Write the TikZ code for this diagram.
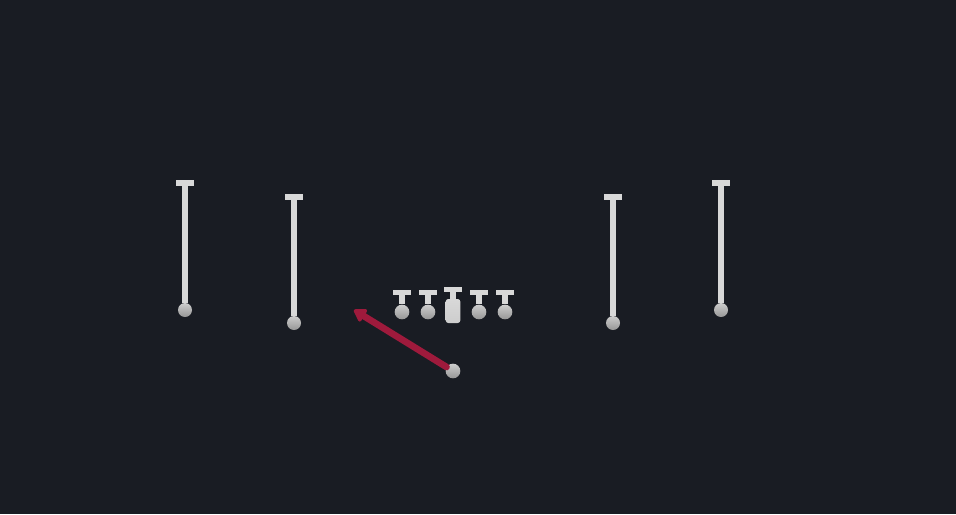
\documentclass[tikz,border=0pt]{standalone}
\usepackage{xcolor}
\usepackage{tikz}
\usetikzlibrary{arrows.meta}

\definecolor{fieldbg}{RGB}{25,28,35}
\definecolor{routegray}{RGB}{216,216,216}
\definecolor{dotlight}{RGB}{205,205,205}
\definecolor{dotdark}{RGB}{150,150,150}
\definecolor{runred}{RGB}{158,26,60}

\tikzset{
  player/.style={circle,inner sep=0pt,minimum size=10.5pt,top color=dotlight,bottom color=dotdark},
  lineman/.style={player,minimum size=11pt},
  snapper/.style={rectangle,rounded corners=2pt,inner sep=0pt,minimum width=11pt,minimum height=18pt,top color=routegray,bottom color=dotlight},
  blockbar/.style={rectangle,inner sep=0pt,minimum width=14pt,minimum height=4.25pt,fill=routegray},
  route/.style={draw=routegray,line width=4.25pt},
  run/.style={draw=runred,line width=5pt,line cap=round,-{Triangle[round,length=10pt,width=12pt]}}
}

\begin{document}
\begin{tikzpicture}[x=0.75pt,y=0.75pt,yscale=-1,xscale=1]
%background
\fill[fieldbg] (0,0) rectangle (956,514);
\useasboundingbox (0,0) rectangle (956,514);

% Receivers
\node [player] (wrleft) at (185,310) {};
\node [blockbar] (wrleftbar) at (185,183) {};
\node [player] (slotleft) at (294,323) {};
\node [blockbar] (slotleftbar) at (294,197) {};
\node [player] (slotright) at (613,323) {};
\node [blockbar] (slotrightbar) at (613,197) {};
\node [player] (wrright) at (721,310) {};
\node [blockbar] (wrrightbar) at (721,183) {};

%Straight Lines
\draw [route] (wrleft) -- (wrleftbar.center) ;
\draw [route] (slotleft) -- (slotleftbar.center) ;
\draw [route] (slotright) -- (slotrightbar.center) ;
\draw [route] (wrright) -- (wrrightbar.center) ;

% Offensive line
\foreach \name/\xx in {lt/402,lg/428,rg/479,rt/505}{
  \node [lineman] (\name) at (\xx,312) {};
  \node [blockbar] (\name bar) at (\xx,292.5) {};
  \draw [route] (\name) -- (\name bar.center) ;
}
\node [snapper] (center) at (453,311) {};
\node [blockbar] (centerbar) at (453,289.5) {};
\draw [route] (center) -- (centerbar.center) ;

% Back and run
\node [lineman] (back) at (453,371) {};
\coordinate (runend) at (354,310);
\draw [run] (back) -- (runend) ;

\end{tikzpicture}
\end{document}
